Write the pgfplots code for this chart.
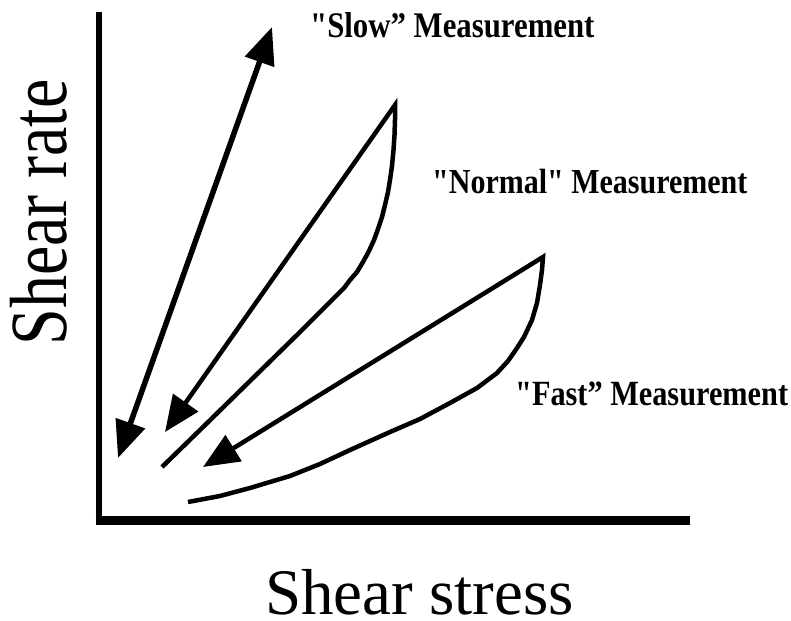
\documentclass[border=0pt]{standalone}
\usepackage{fontspec}
\setmainfont{Liberation Serif}[Ligatures=TeXOff]
\usepackage{graphicx}
\usepackage{pgfplots}
\pgfplotsset{compat=1.18}
\usetikzlibrary{arrows.meta}
\begin{document}
\begin{tikzpicture}
\begin{axis}[x=1bp,y=1bp,xmin=0,xmax=791,ymin=0,ymax=621,y dir=reverse,
  hide axis,clip=false,scale only axis]
% axis lines
\addplot[line width=6bp,line cap=butt] coordinates {(98.5,12)(98.5,524)};
\addplot[line width=9bp,line cap=butt] coordinates {(95.5,520.5)(690,520.5)};
% slow measurement (double arrow)
\addplot[line width=5.5bp,{Triangle[length=37bp,width=30bp]}-{Triangle[length=37bp,width=30bp]}]
  coordinates {(118,458)(272,27)};
% normal measurement loop
\addplot[line width=4.5bp,line join=miter,-{Triangle[length=36bp,width=30bp]}] coordinates {
 (162,467) (200,430) (250,381) (300,332) (322,310) (336,296) (344,288) (350,280)
 (357,272) (363,262) (369,251) (374,240) (378,229) (382,217) (385,205) (388,192)
 (390,180) (392,166) (393.5,150) (394.5,135) (395,120) (395,105)
 (165,432)};
% fast measurement loop
\addplot[line width=4.5bp,line join=miter,-{Triangle[length=36bp,width=30bp]}] coordinates {
 (188,502) (220,496) (250,488) (290,476) (320,464) (350,450) (390,432) (420,419)
 (450,403) (477,388) (497,373) (508,361) (517,348) (524,337) (532,320) (537,303)
 (540,285) (542,270) (543,257)
 (203,467)};
% labels
\node[anchor=base west,inner sep=0,font=\bfseries\fontsize{30.8bp}{31bp}\selectfont]
  at (310,37) {\scalebox{1}[1.17]{"Slow” Measurement}};
\node[anchor=base west,inner sep=0,font=\bfseries\fontsize{30bp}{31bp}\selectfont]
  at (432,193) {\scalebox{1}[1.17]{"Normal" Measurement}};
\node[anchor=base west,inner sep=0,font=\bfseries\fontsize{30.3bp}{31bp}\selectfont]
  at (515,405) {\scalebox{1}[1.17]{"Fast” Measurement}};
\node[anchor=base west,inner sep=0,font=\fontsize{65bp}{66bp}\selectfont]
  at (265,614) {Shear stress};
\node[rotate=90,anchor=base,inner sep=0,font=\fontsize{66bp}{66bp}\selectfont]
  at (67,212.5) {\scalebox{1}[1.23]{Shear rate}};
\end{axis}
\pgfresetboundingbox
\useasboundingbox (0,0) rectangle (791bp,621bp);
\end{tikzpicture}
\end{document}
